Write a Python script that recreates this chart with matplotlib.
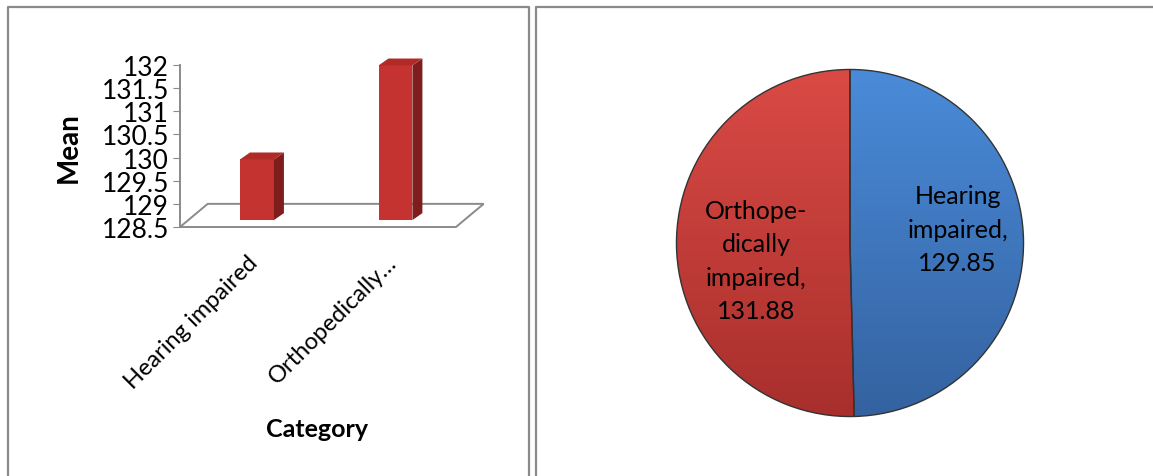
import matplotlib.pyplot as plt
import numpy as np
from matplotlib.patches import Polygon
from matplotlib.lines import Line2D
from matplotlib.colors import LinearSegmentedColormap
from matplotlib.transforms import ScaledTranslation

plt.rcParams['font.family'] = ['Lato', 'DejaVu Sans']

categories = ['Hearing impaired', 'Orthopedically impaired']
tick_names = ['Hearing impaired', 'Orthopedically…']
means = [129.85, 131.88]
pie_labels = ['Hearing\nimpaired,\n129.85', 'Orthope-\ndically\nimpaired,\n131.88']
y_ticks = [128.5, 129, 129.5, 130, 130.5, 131, 131.5, 132]

W, H = 1153, 477
fig = plt.figure(figsize=(W / 100, H / 100), dpi=100)

def fx(px):
    return px / W

def fy(py):
    return 1 - py / H

# panel borders
border = '#8a8a8a'
for xs, ys in [([7.5, 7.5, 529, 529], [H + 5, 7.5, 7.5, H + 5]),
               ([535.5, 535.5, W + 5], [H + 5, 7.5, 7.5])]:
    fig.add_artist(Line2D([fx(v) for v in xs], [fy(v) for v in ys],
                          color=border, lw=1.6, transform=fig.transFigure))

# ---- bar chart (fake 3D columns) ----
ax = fig.add_axes([fx(180), fy(228), fx(487 - 180), (228 - 66) / H])
ax.set_ylim(128.5, 132)
ax.set_xlim(-0.556, 1.661)
ax.set_yticks(y_ticks)
ax.set_yticklabels([f'{t:g}' for t in y_ticks])
for s in ['top', 'right', 'bottom']:
    ax.spines[s].set_visible(False)
ax.spines['left'].set_color('#8a8a8a')
ax.spines['left'].set_linewidth(1.4)
ax.tick_params(axis='y', length=5, color='#8a8a8a', labelsize=19, pad=3)
ax.patch.set_alpha(0)

# floor
depth_x, depth_y = 0.2, 0.5
floor = Polygon([(-0.556, 128.5), (1.437, 128.5), (1.437 + depth_x, 128.5 + depth_y),
                 (-0.556 + depth_x, 128.5 + depth_y)], closed=True, fill=False,
                edgecolor='#8a8a8a', lw=1.4, clip_on=False)
ax.add_patch(floor)

x = np.arange(len(categories))
base = 128.65
lift = 0.11
bw = 0.245
sx, sy = 0.072, 0.15
tops = [m + lift for m in means]
ax.bar(x, [t - base for t in tops], bottom=base, width=bw, color='#c4332f',
       edgecolor='none', zorder=3)
for xi, t in zip(x, tops):
    r = xi + bw / 2
    l = xi - bw / 2
    side = Polygon([(r, base), (r + sx, base + sy), (r + sx, t + sy), (r, t)],
                   closed=True, facecolor='#7e1d1c', edgecolor='none', zorder=3,
                   clip_on=False)
    top = Polygon([(l, t), (r, t), (r + sx, t + sy), (l + sx, t + sy)],
                  closed=True, facecolor='#b02a28', edgecolor='none', zorder=3,
                  clip_on=False)
    ax.add_patch(side)
    ax.add_patch(top)

ax.set_xticks(x)
ax.set_xticklabels(tick_names, rotation=45, ha='right', rotation_mode='anchor',
                   fontsize=17)
ax.tick_params(axis='x', length=0, pad=22)
shift = ScaledTranslation(-10 / 100, 6 / 100, fig.dpi_scale_trans)
for lab in ax.get_xticklabels():
    lab.set_transform(lab.get_transform() + shift)

fig.text(fx(69), fy(148), 'Mean', rotation=90, fontsize=20, fontweight='bold',
         ha='center', va='center')
fig.text(fx(317), fy(430), 'Category', fontsize=18, fontweight='bold',
         ha='center', va='center')

# ---- pie chart ----
r_px = 177
pax = fig.add_axes([fx(850 - r_px), fy(244 + r_px), fx(2 * r_px), 2 * r_px / H])
wedges, texts = pax.pie(means, startangle=90, counterclock=False,
                        colors=['#3f7cc8', '#c9403c'],
                        labels=pie_labels, labeldistance=0.6,
                        textprops=dict(fontsize=18, linespacing=1.55),
                        wedgeprops=dict(linewidth=1.0, edgecolor='#333333'))

grads = [LinearSegmentedColormap.from_list('b', ['#3462a0', '#4a8bd9']),
         LinearSegmentedColormap.from_list('r', ['#a82f2c', '#da4a45'])]
g = np.linspace(0, 1, 256).reshape(-1, 1)
for w, cm in zip(wedges, grads):
    im = pax.imshow(g, extent=[-1, 1, -1, 1], origin='lower', cmap=cm,
                    aspect='auto', zorder=w.get_zorder())
    im.set_clip_path(w)
    w.set_facecolor('none')
    w.set_zorder(im.get_zorder() + 0.1)

for t in texts:
    t.set_ha('center')
    t.set_va('center')
texts[0].set_position((0.62, 0.08))
texts[1].set_position((-0.54, -0.10))
pax.set_xlim(-1.02, 1.02)
pax.set_ylim(-1.02, 1.02)
pax.set_aspect('equal')
pax.axis('off')

fig.savefig('out.png', dpi=100)
